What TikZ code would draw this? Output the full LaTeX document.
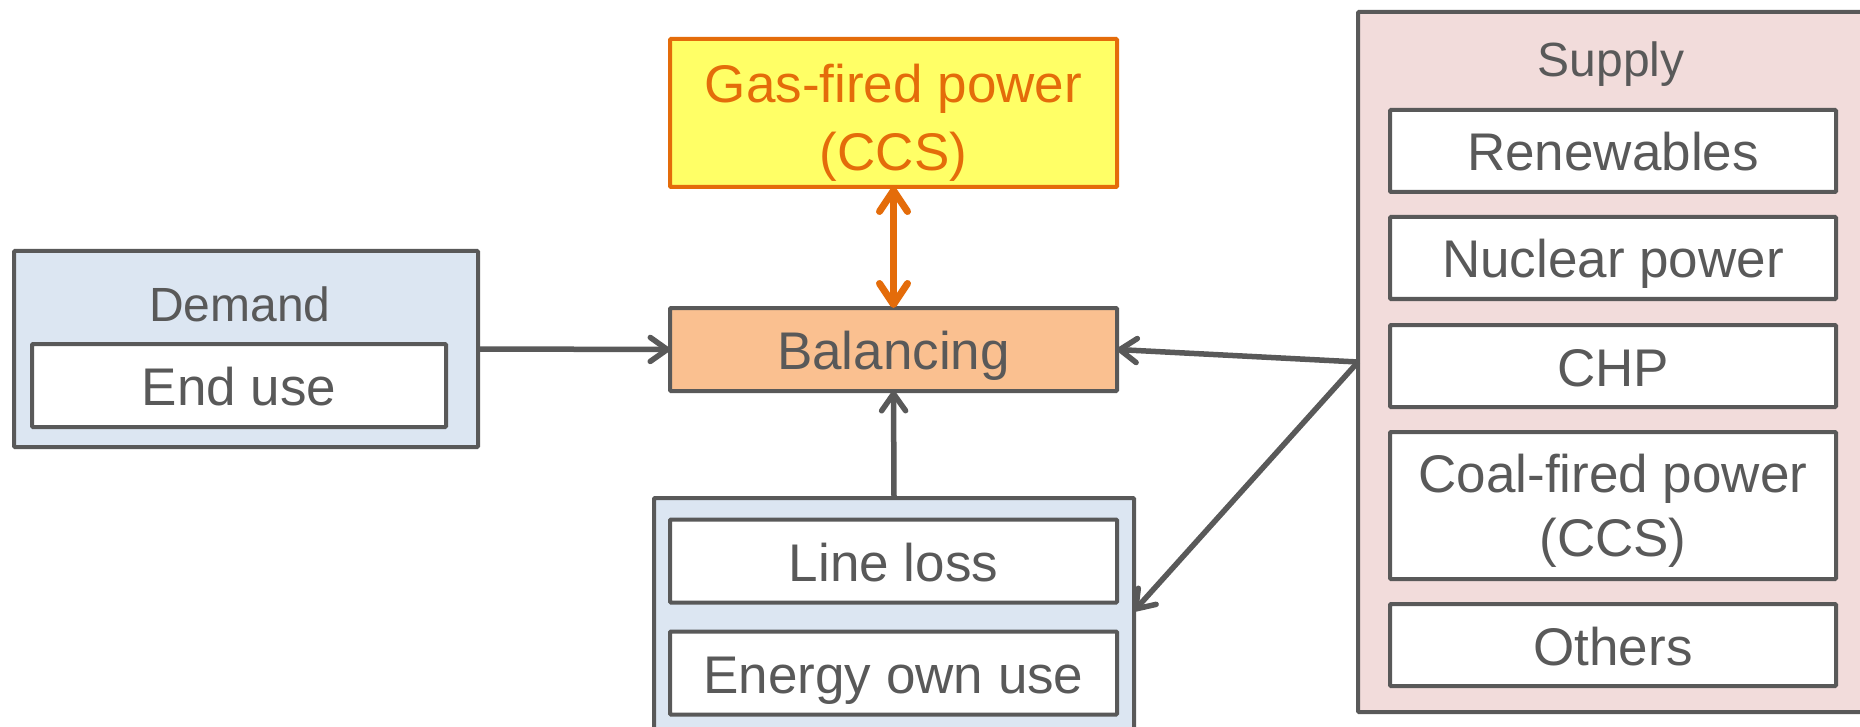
\documentclass[tikz,border=0pt]{standalone}
\usepackage{fontspec}
\setmainfont{Liberation Sans}
\usetikzlibrary{arrows.meta}
\definecolor{dg}{HTML}{595959}
\definecolor{blfill}{HTML}{DCE6F2}
\definecolor{orfill}{HTML}{FAC090}
\definecolor{yel}{HTML}{FFFF66}
\definecolor{org}{HTML}{E46C0A}
\definecolor{pinkfill}{HTML}{F2DCDB}
\begin{document}
\begin{tikzpicture}[x=1pt,y=-1pt,
  every node/.style={inner sep=0pt, outer sep=0pt},
  group/.style={draw=dg, line width=4pt, rectangle, rounded corners=1pt},
  item/.style={draw=dg, line width=4pt, fill=white, text=dg, rounded corners=1pt,
    font=\fontsize{53}{62}\selectfont, align=center, minimum width=447pt, minimum height=83pt,
    text height=40pt, text depth=0pt},
  plainbox/.style={draw=dg, line width=4pt, fill=white, rounded corners=1pt, minimum width=446pt},
  txt/.style={text=dg, align=center},
  head/.style={text=dg, font=\fontsize{48}{56}\selectfont},
  conn/.style={draw=dg, line width=5.5pt, -{Straight Barb[round,length=17pt,width=24pt]}},
  oconn/.style={draw=org, line width=7pt, {Straight Barb[round,length=21pt,width=28pt]}-{Straight Barb[round,length=21pt,width=28pt]}},
]
\clip (0,0) rectangle (1860,727);
\fill[white] (0,0) rectangle (1860,727);
% groups
\node[group, fill=blfill, minimum width=464pt, minimum height=196pt] (demand) at (246,349) {};
\node[head] (demandlbl) at (240,304) {Demand};
\node[item, minimum width=414pt] (enduse) at (239,385.5) {End use};

\node[group, fill=blfill, minimum width=480pt, minimum height=262pt] (lossbox) at (894,629) {};
\node[item] (lineloss) at (893.5,561) {Line loss};
\node[item] (ownuse) at (893.5,673) {Energy own use};

\node[group, fill=pinkfill, minimum width=522pt, minimum height=700pt] (supply) at (1619,362) {};
\node[head] (supplylbl) at (1611,64) {Supply};
\node[item, minimum width=446pt, minimum height=82pt] (ren) at (1613,151) {Renewables};
\node[item, minimum width=446pt, minimum height=82pt] (nuc) at (1613,258) {Nuclear power};
\node[item, minimum width=446pt, minimum height=82pt] (chp) at (1613,366) {CHP};
\node[plainbox, minimum height=147pt] (coal) at (1613,505.5) {};
\node[txt, font=\fontsize{53}{64}\selectfont] (coaltxt) at (1613,511) {Coal-fired power\\(CCS)};
\node[item, minimum width=446pt, minimum height=82pt] (oth) at (1613,645) {Others};

\node[item, fill=orfill] (bal) at (893.5,349.5) {Balancing};
\node[plainbox, fill=yel, draw=org, minimum width=447pt, minimum height=148pt] (gas) at (893.5,113) {};
\node[txt, text=org, font=\fontsize{53}{68}\selectfont] (gastxt) at (893.5,123) {Gas-fired power\\(CCS)};

% connectors
\draw[conn] (demand.east) -- (bal.west);
\draw[oconn] (gas.south) -- (bal.north);
\draw[conn] (lossbox.north) -- (bal.south);
\draw[conn] (supply.west) -- (bal.east);
\draw[conn] (supply.west) -- (lossbox.east |- 0,611);
\end{tikzpicture}
\end{document}
